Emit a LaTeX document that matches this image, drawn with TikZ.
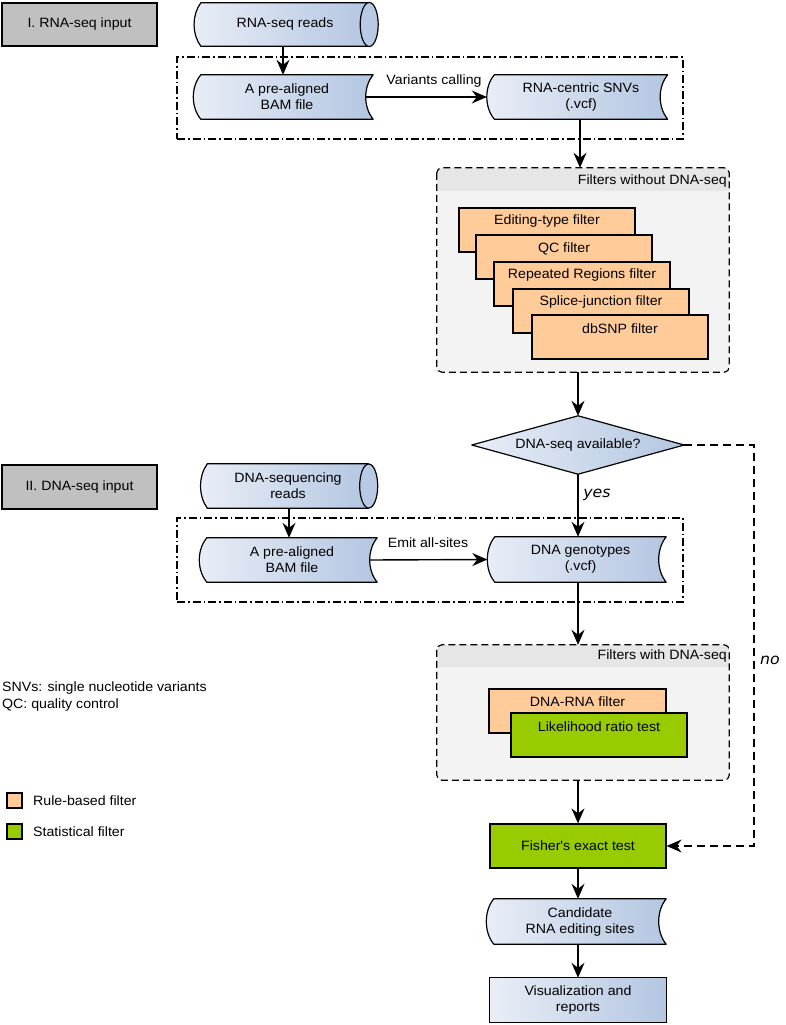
\documentclass[tikz,border=0pt]{standalone}
\usepackage{fontspec}
\setmainfont{Liberation Sans}[FakeStretch=1.05, Ligatures=TeXOff]
\newfontfamily\djv{DejaVu Sans}[FakeStretch=1.05]
\usetikzlibrary{arrows.meta,calc}
\pgfdeclarelayer{bg}
\pgfdeclarelayer{mid}
\pgfsetlayers{bg,mid,main}
\definecolor{bl1}{HTML}{E9EEF7}
\definecolor{bl2}{HTML}{B3C6E1}
\definecolor{capc}{HTML}{B8CAE3}
\definecolor{orng}{HTML}{FFCC99}
\definecolor{grn}{HTML}{99CC00}
\definecolor{gbox}{HTML}{C0C0C0}
\definecolor{cfill}{HTML}{F3F3F3}
\definecolor{hfill}{HTML}{E6E6E6}
\tikzset{
  txt/.style={font=\fontsize{13.5pt}{16pt}\selectfont, align=center, inner sep=0pt},
  plain/.style={txt, minimum height=44pt},
  graybox/.style={txt, draw=black, fill=gbox, line width=1.2pt, minimum width=155pt, minimum height=43pt},
  filtbox/.style={txt, draw=black, line width=1.2pt, minimum width=176pt, minimum height=44pt},
  ddframe/.style={draw=black, line width=1.2pt, dash pattern=on 8pt off 3pt on 1.6pt off 3pt, inner sep=0pt},
  contframe/.style={inner sep=0pt},
  arr/.style={line width=1.4pt, -{Stealth[length=15pt,width=13pt,inset=5pt]}},
  noarr/.style={line width=1.3pt, dash pattern=on 8pt off 5pt, -{Stealth[length=15pt,width=13pt,inset=5pt]}},
  lab/.style={txt},
  legsq/.style={draw=black, line width=1.2pt, minimum size=15pt, inner sep=0pt},
  yn/.style={font=\djv\itshape\fontsize{15pt}{17pt}\selectfont, inner sep=0pt},
}
\newcommand\sdshape[1]{%
  \begin{pgfonlayer}{mid}
  \shadedraw[left color=bl1, right color=bl2, line width=1.2pt, line join=round]
    (#1.north west) -- (#1.north east)
    .. controls ($(#1.north east)+(-10,12)$) and ($(#1.south east)+(-10,-12)$) .. (#1.south east)
    -- (#1.south west)
    .. controls ($(#1.south west)+(-10,-12)$) and ($(#1.north west)+(-10,12)$) .. cycle;
  \end{pgfonlayer}}
\newcommand\cylshape[1]{%
  \begin{pgfonlayer}{mid}
  \shade[left color=bl1, right color=bl2]
    (#1.north west) -- (#1.north east) -- (#1.south east) -- (#1.south west)
    .. controls ($(#1.south west)+(-9,-12)$) and ($(#1.north west)+(-9,12)$) .. cycle;
  \draw[line width=1.2pt, line join=round] (#1.north east) -- (#1.north west)
    .. controls ($(#1.north west)+(-9,12)$) and ($(#1.south west)+(-9,-12)$) .. (#1.south west)
    -- (#1.south east);
  \draw[line width=1.2pt, fill=capc] (#1.east) ellipse [x radius=9pt, y radius=22pt];
  \end{pgfonlayer}}
\newcommand\rectshade[1]{%
  \begin{pgfonlayer}{mid}
  \shadedraw[left color=bl1, right color=bl2, line width=1.2pt] (#1.north west) rectangle (#1.south east);
  \end{pgfonlayer}}
\newcommand\container[2]{%
  \begin{pgfonlayer}{bg}
  \fill[cfill, rounded corners=5pt] (#1.north west) rectangle (#1.south east);
  \begin{scope}
    \clip[rounded corners=5pt] (#1.north west) rectangle (#1.south east);
    \fill[hfill] (#1.north west) rectangle ($(#1.north east)+(0,#2)$);
  \end{scope}
  \draw[line width=1.2pt, dash pattern=on 7pt off 4pt, rounded corners=5pt] (#1.north west) rectangle (#1.south east);
  \end{pgfonlayer}}

\begin{document}
\begin{tikzpicture}[x=1pt, y=-1pt]
\useasboundingbox (0,0) rectangle (785,1025);

% ---------- section I ----------
\node[graybox] (in1) at (79.5,24.5) {I. RNA-seq input};
\node[ddframe, minimum width=506pt, minimum height=82pt] (g1) at (430,98) {};
\node[plain, minimum width=168pt, minimum height=43pt] (rna) at (285,24.5) {RNA-seq reads};
\cylshape{rna}
\node[plain, minimum width=172pt] (bam1) at (287,97) {A pre-aligned\\BAM file};
\sdshape{bam1}
\node[plain, minimum width=173pt] (snv) at (581,97) {RNA-centric SNVs\\(.vcf)};
\sdshape{snv}
\node[lab] (vc) at (434,81) {Variants calling};

% ---------- filters without DNA-seq ----------
\node[contframe, minimum width=292pt, minimum height=204pt] (c1) at (583,270) {};
\container{c1}{23}
\node[lab, anchor=east] (h1) at (727,181) {Filters without DNA-seq};
\node[filtbox, fill=orng, label={[txt, anchor=center, yshift=-14pt]north:Editing-type filter}] (f1) at (547,230) {};
\node[filtbox, fill=orng, label={[txt, anchor=center, yshift=-14pt]north:QC filter}] (f2) at (564,257) {};
\node[filtbox, fill=orng, label={[txt, anchor=center, yshift=-14pt]north:Repeated Regions filter}] (f3) at (582,284) {};
\node[filtbox, fill=orng, label={[txt, anchor=center, yshift=-14pt]north:Splice-junction filter}] (f4) at (601,311) {};
\node[filtbox, fill=orng, label={[txt, anchor=center, yshift=-14pt]north:dbSNP filter}] (f5) at (620,337) {};

% ---------- decision ----------
\node[plain, minimum width=212pt, minimum height=58pt] (dia) at (578,445) {DNA-seq available?};
\begin{pgfonlayer}{mid}
\shadedraw[left color=bl1, right color=bl2, line width=1.2pt, line join=round]
  (dia.north) -- (dia.east) -- (dia.south) -- (dia.west) -- cycle;
\end{pgfonlayer}

% ---------- section II ----------
\node[graybox, minimum height=44pt] (in2) at (79.5,487) {II. DNA-seq input};
\node[ddframe, minimum width=506pt, minimum height=84pt] (g2) at (430,560) {};
\node[plain, minimum width=161pt] (dna) at (288,486) {DNA-sequencing\\reads};
\cylshape{dna}
\node[plain, minimum width=170pt] (bam2) at (292,560) {A pre-aligned\\BAM file};
\sdshape{bam2}
\node[plain, minimum width=171pt, minimum height=45pt] (geno) at (580.5,559.5) {DNA genotypes\\(.vcf)};
\sdshape{geno}
\node[lab] (ea) at (428,543) {Emit all-sites};

% ---------- filters with DNA-seq ----------
\node[contframe, minimum width=292pt, minimum height=135pt] (c2) at (583,712.5) {};
\container{c2}{22}
\node[lab, anchor=east] (h2) at (727,656) {Filters with DNA-seq};
\node[filtbox, fill=orng, minimum width=177pt, label={[txt, anchor=center, yshift=-13pt]north:DNA-RNA filter}] (dr) at (577.5,711) {};
\node[filtbox, fill=grn, label={[txt, anchor=center, yshift=-14pt]north:Likelihood ratio test}] (lrt) at (599,735) {};

% ---------- final steps ----------
\node[filtbox, fill=grn] (fish) at (578,846) {Fisher's exact test};
\node[plain, minimum width=172pt, minimum height=45pt] (cand) at (580,921.5) {Candidate\\RNA editing sites};
\sdshape{cand}
\node[plain, minimum width=176pt] (vis) at (578,1000) {Visualization and\\reports};
\rectshade{vis}

% ---------- legend ----------
\node[lab, anchor=west, align=left] (n1) at (2,688) {SNVs: single nucleotide variants};
\node[lab, anchor=west, align=left] (n2) at (2,705) {QC: quality control};
\node[legsq, fill=orng] (l1) at (14.5,800.5) {};
\node[lab, anchor=west] (l1t) at (33,801) {Rule-based filter};
\node[legsq, fill=grn] (l2) at (14.5,831.5) {};
\node[lab, anchor=west] (l2t) at (33,832) {Statistical filter};

% ---------- connectors ----------
\draw[arr] (rna.south -| 283,0) -- (bam1.north -| 283,0);
\draw[arr] ($(bam1.east)+(-7.5,0)$) -- ($(snv.west)+(-7.5,0)$);
\draw[arr] (snv.south -| 580,0) -- (c1.north -| 580,0);
\draw[arr] (c1.south -| dia.north) -- (dia.north);
\draw[arr] (dia.south) -- (dia.south |- geno.north);
\draw[arr] (dna.south -| 289,0) -- (bam2.north -| 289,0);
\draw[arr] ($(bam2.east)+(-7.5,0)$) -- ($(geno.west)+(-7.5,0)$);
\draw[arr] (geno.south -| fish.north) -- (c2.north -| fish.north);
\draw[arr] (c2.south -| fish.north) -- (fish.north);
\draw[arr] (fish.south) -- (cand.north -| fish.south);
\draw[arr] (cand.south -| vis.north) -- (vis.north);
\coordinate (nocorner) at (754,445);
\draw[noarr] (dia.east) -- (nocorner) |- (fish.east);

\node[yn] (yes) at (597,495) {yes};
\node[yn] (no) at (770,660) {no};
\end{tikzpicture}
\end{document}
